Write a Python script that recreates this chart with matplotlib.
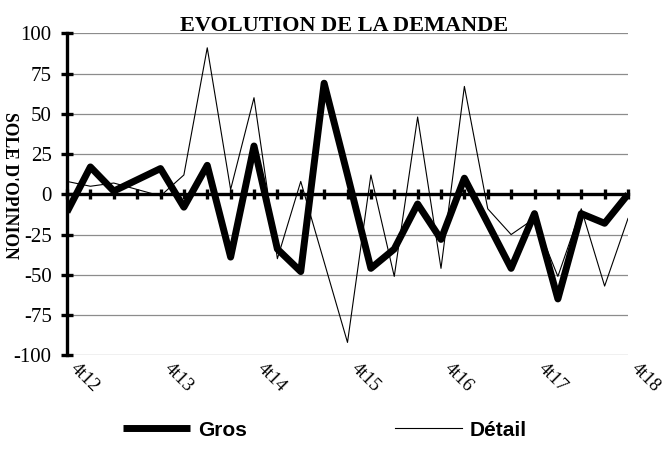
import matplotlib
matplotlib.use("Agg")
import matplotlib.pyplot as plt
import matplotlib.transforms as mtransforms

# ===== Données (soldes d'opinion, trimestriels 4t12 -> 4t18) =====
quarters = list(range(25))
tick_labels = ["4t12", "4t13", "4t14", "4t15", "4t16", "4t17", "4t18"]
gros = [-11, 17, 2, 9, 16, -8, 18, -39, 30, -34, -48, 69, 12, -46, -34,
        -6, -28, 10, -18, -46, -12, -65, -12, -18, 0]
detail = [8, 5, 7, 3, -1, 12, 91, 3, 60, -40, 8, -42, -92, 12, -51,
          48, -46, 67, -9, -25, -15, -51, -9, -57, -15]
y_ticks = [-100, -75, -50, -25, 0, 25, 50, 75, 100]

SERIF = "Liberation Serif"
SANS = "Liberation Sans"

fig = plt.figure(figsize=(6.66, 4.71), dpi=100)
ax = fig.add_axes([67 / 666, 1 - 355.3 / 471, 561 / 666, 322 / 471])

# grille horizontale grise
for v in y_ticks:
    ax.axhline(v, color="#8c8c8c", lw=0.9, zorder=1)

ax.plot(quarters, detail, color="black", lw=0.8, zorder=3, label="Détail")
ax.plot(quarters, gros, color="black", lw=5, zorder=4, label="Gros",
        solid_joinstyle="round", solid_capstyle="butt")

ax.set_xlim(0, 24)
ax.set_ylim(-100, 100)

# axes façon Excel : axe vertical à gauche, axe des catégories sur le zéro
for s in ["top", "right"]:
    ax.spines[s].set_visible(False)
ax.spines["left"].set_linewidth(2.4)
ax.spines["bottom"].set_position(("data", 0))
ax.spines["bottom"].set_linewidth(2.4)
ax.spines["bottom"].set_zorder(5)

ax.set_yticks(y_ticks)
ax.set_yticklabels([str(v) for v in y_ticks], fontfamily=SERIF, fontsize=15)
ax.tick_params(axis="y", direction="inout", length=8, width=2.4, pad=7)
ax.set_xticks(quarters)
ax.tick_params(axis="x", direction="inout", length=7, width=2.4, labelbottom=False)

# étiquettes des trimestres sous la zone de tracé
ax2 = ax.twiny()
ax2.set_xlim(ax.get_xlim())
ax2.xaxis.set_ticks_position("bottom")
ax2.xaxis.set_label_position("bottom")
for s in ax2.spines.values():
    s.set_visible(False)
ax2.set_xticks(quarters[::4])
ax2.set_xticklabels(tick_labels, fontfamily=SERIF, fontsize=13.5, rotation=-45,
                    ha="left", va="top", rotation_mode="anchor")
ax2.tick_params(axis="x", length=0, pad=3)
offset = mtransforms.ScaledTranslation(12 / 100, 0, fig.dpi_scale_trans)
for lab in ax2.get_xticklabels():
    lab.set_transform(lab.get_transform() + offset)

fig.text(0.516, 1 - 31 / 471, "EVOLUTION DE LA DEMANDE", ha="center",
         va="baseline", fontfamily=SERIF, fontweight="bold", fontsize=16)
fig.text(9 / 666, 1 - 185 / 471, "SOLE D'OPINION", rotation=270, ha="center",
         va="center", fontfamily=SERIF, fontweight="bold", fontsize=12.7)

h, l = ax.get_legend_handles_labels()
fig.legend(h[::-1], l[::-1], loc="center", bbox_to_anchor=(0.488, 1 - 430 / 471),
           ncol=2, frameon=False, handlelength=3.2, handletextpad=0.4,
           columnspacing=7.1, prop={"family": SANS, "weight": "bold", "size": 15})

fig.savefig("out.png", dpi=100)
